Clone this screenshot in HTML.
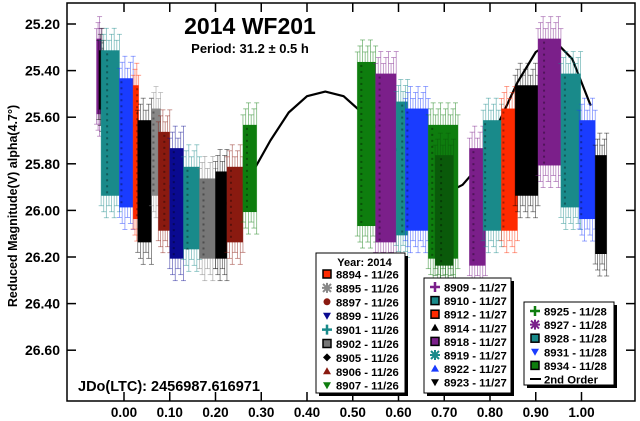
<!DOCTYPE html>
<html><head><meta charset="utf-8">
<style>
html,body{margin:0;padding:0;background:#fff;}
svg{display:block;font-family:"Liberation Sans",Arial,sans-serif;font-weight:bold;}
</style></head><body>
<svg id="chart" width="640" height="421" viewBox="0 0 640 421">
<g id="curve-layer"></g>
<g id="data-layer"></g>
<g id="axes-layer"></g>
<g id="legend-layer"></g>
</svg>
<script>
// ---- data ----
const tickX = [0.00,0.10,0.20,0.30,0.40,0.50,0.60,0.70,0.80,0.90,1.00];
const tickY = [25.20,25.40,25.60,25.80,26.00,26.20,26.40,26.60];
// session phase range and magnitude range
const sessPhaseStart = [-0.060,-0.055,-0.050,-0.010,0.020,0.030,0.060,0.075,0.100,0.130,0.165,0.200,0.225,0.260, 0.510,0.550,0.595,0.615,0.665,0.680,0.755,0.785,0.825,0.855,0.905,0.955,0.995,1.030];
const sessPhaseEnd   = [-0.050,-0.045,-0.010,0.020,0.032,0.060,0.080,0.100,0.130,0.165,0.200,0.225,0.260,0.290, 0.550,0.595,0.620,0.665,0.730,0.720,0.790,0.825,0.860,0.905,0.955,0.998,1.030,1.055];
const sessMagTop     = [25.25,25.30,25.30,25.42,25.45,25.60,25.55,25.65,25.72,25.80,25.85,25.82,25.80,25.62, 25.35,25.40,25.52,25.55,25.62,25.75,25.72,25.60,25.55,25.45,25.25,25.40,25.60,25.75];
const sessMagBot     = [25.60,25.58,25.95,26.00,26.05,26.15,25.95,26.10,26.22,26.18,26.22,26.22,26.15,26.02, 26.08,26.15,26.12,26.10,26.22,26.25,26.25,26.10,26.10,25.95,25.82,26.00,26.05,26.20];
const sessColor      = ["#7b1f8a","#000","#198a8a","#1a3cff","#ff2a00","#000","#888","#8a1a10","#0a0a90","#198a8a","#777","#000","#8a1a10","#0e7d0e", "#0e7d0e","#7b1f8a","#198a8a","#1a3cff","#0e7d0e","#0a5a0a","#7b1f8a","#198a8a","#ff2a00","#000","#7b1f8a","#198a8a","#1a3cff","#000"];
// 2nd-order fit curve samples
const fitPhase = [0.00,0.05,0.10,0.15,0.20,0.24,0.28,0.32,0.36,0.40,0.44,0.48,0.52,0.56,0.60,0.65,0.70,0.74,0.78,0.82,0.86,0.90,0.94,0.98,1.02];
const fitMag   = [25.55,25.75,25.90,25.98,26.00,25.95,25.84,25.70,25.58,25.51,25.49,25.51,25.58,25.66,25.75,25.87,25.93,25.89,25.80,25.62,25.45,25.32,25.27,25.35,25.55];
// legend
const leg1Labels = ["8894 - 11/26","8895 - 11/26","8897 - 11/26","8899 - 11/26","8901 - 11/26","8902 - 11/26","8905 - 11/26","8906 - 11/26","8907 - 11/26"];
const leg1Colors = ["#ff2a00","#888","#8a1a10","#0a0a90","#198a8a","#777","#000","#8a1a10","#0e7d0e"];
const leg1Marks  = ["sq","star","circ","tdown","plus","sq","diam","tup","tdown"];
const leg2Labels = ["8909 - 11/27","8910 - 11/27","8912 - 11/27","8914 - 11/27","8918 - 11/27","8919 - 11/27","8922 - 11/27","8923 - 11/27"];
const leg2Colors = ["#7b1f8a","#198a8a","#ff2a00","#000","#7b1f8a","#198a8a","#1a3cff","#000"];
const leg2Marks  = ["plus","sq","sq","tup","sq","star","tup","tdown"];
const leg3Labels = ["8925 - 11/28","8927 - 11/28","8928 - 11/28","8931 - 11/28","8934 - 11/28","2nd Order"];
const leg3Colors = ["#0e7d0e","#7b1f8a","#198a8a","#1a3cff","#0e7d0e","#000"];
const leg3Marks  = ["plus","star","sq","tdown","sq","line"];

const NS="http://www.w3.org/2000/svg";
const L=67,T=3,R=635,B=401;
function xS(p){return 124+p*457.5;}
function yS(m){return 24+(m-25.2)*233;}
function mk(tag,attrs,parent){const e=document.createElementNS(NS,tag);for(const k in attrs)e.setAttribute(k,attrs[k]);parent.appendChild(e);return e;}

// curve
const curveG=document.getElementById('curve-layer');
let d="";
for(let i=0;i<fitPhase.length;i++){d+=(i?"L":"M")+xS(fitPhase[i]).toFixed(1)+","+yS(fitMag[i]).toFixed(1);}
const cp=mk('path',{d:d,fill:'none',stroke:'#000','stroke-width':2.2,'stroke-linejoin':'round'},curveG);



// sessions
const dataG=document.getElementById('data-layer');
for(let s=0;s<sessPhaseStart.length;s++){
  const g=mk('g',{},dataG);
  
  
  const x0=xS(sessPhaseStart[s]),x1=xS(sessPhaseEnd[s]);
  const y0=yS(sessMagTop[s]),y1=yS(sessMagBot[s]);
  const c=sessColor[s];
  const n=Math.max(3,Math.round((x1-x0)/2.5));
  for(let k=0;k<=n;k++){
    const x=x0+(x1-x0)*k/n;
    const ext=(k%3)*6+7;
    mk('line',{x1:x,x2:x,y1:y0-ext,y2:y1+ext,stroke:c,'stroke-width':0.8,opacity:0.55},g);
    mk('line',{x1:x-2.5,x2:x+2.5,y1:y0-ext,y2:y0-ext,stroke:c,'stroke-width':0.8,opacity:0.55},g);
    mk('line',{x1:x-2.5,x2:x+2.5,y1:y1+ext,y2:y1+ext,stroke:c,'stroke-width':0.8,opacity:0.55},g);
  }
  mk('rect',{x:x0,y:y0+3,width:Math.max(2,x1-x0),height:Math.max(2,y1-y0-6),fill:c},g);
  for(let yy=y0+6;yy<y1-4;yy+=6){
    mk('rect',{x:x0+((yy|0)%3)*2+1,y:yy,width:2,height:2,fill:'#000',opacity:0.35},g);
  }
}

// axes
const ax=document.getElementById('axes-layer');
const fr=mk('rect',{x:L,y:T,width:R-L,height:B-T,fill:'none',stroke:'#000','stroke-width':1.5},ax);


for(let i=0;i<tickX.length;i++){
  const x=xS(tickX[i]);
  mk('line',{x1:x,x2:x,y1:B,y2:B-9,stroke:'#000','stroke-width':1.5},ax);
  mk('line',{x1:x,x2:x,y1:T,y2:T+9,stroke:'#000','stroke-width':1.5},ax);
  const t=mk('text',{x:x,y:417,'text-anchor':'middle','font-size':13.5},ax);
  t.textContent=tickX[i].toFixed(2);
  
  
}
for(let i=0;i<tickY.length;i++){
  const y=yS(tickY[i]);
  mk('line',{x1:L,x2:L+9,y1:y,y2:y,stroke:'#000','stroke-width':1.5},ax);
  mk('line',{x1:R,x2:R-9,y1:y,y2:y,stroke:'#000','stroke-width':1.5},ax);
  const t=mk('text',{x:60,y:y+5,'text-anchor':'end','font-size':14},ax);
  t.textContent=tickY[i].toFixed(2);
  
  
}
function txt(s,attrs,name){const t=mk('text',attrs,ax);t.textContent=s;return t;}
txt("Reduced Magnitude(V) alpha(4.7°)",{x:0,y:0,transform:'translate(17,206) rotate(-90)','text-anchor':'middle','font-size':12.5},'y-axis-title');
txt("2014 WF201",{x:250,y:34,'text-anchor':'middle','font-size':23},'chart-title');
txt("Period: 31.2 ± 0.5 h",{x:250,y:53,'text-anchor':'middle','font-size':13},'period-subtitle');
txt("JDo(LTC): 2456987.616971",{x:78,y:391,'font-size':14.5},'jdo-label');

// legend
const lg=document.getElementById('legend-layer');
function marker(g,type,x,y,c){
  if(type==='sq'){mk('rect',{x:x-4,y:y-4,width:8,height:8,fill:c,stroke:'#000','stroke-width':1.5},g);}
  else if(type==='circ'){mk('circle',{cx:x,cy:y,r:3.5,fill:c},g);}
  else if(type==='diam'){mk('path',{d:`M${x},${y-4}L${x+4},${y}L${x},${y+4}L${x-4},${y}Z`,fill:c},g);}
  else if(type==='tup'){mk('path',{d:`M${x},${y-4}L${x+4},${y+3}L${x-4},${y+3}Z`,fill:c},g);}
  else if(type==='tdown'){mk('path',{d:`M${x-4},${y-3}L${x+4},${y-3}L${x},${y+4}Z`,fill:c},g);}
  else if(type==='plus'){mk('path',{d:`M${x-5},${y}H${x+5}M${x},${y-5}V${y+5}`,stroke:c,'stroke-width':2.5},g);}
  else if(type==='star'){mk('path',{d:`M${x-5},${y}H${x+5}M${x},${y-5}V${y+5}M${x-4},${y-4}L${x+4},${y+4}M${x-4},${y+4}L${x+4},${y-4}`,stroke:c,'stroke-width':2},g);}
  else if(type==='line'){mk('line',{x1:x-5,x2:x+6,y1:y,y2:y,stroke:c,'stroke-width':2},g);}
}
function legend(name,bx,by,bw,bh,title,labels,colors,marks,y0,step){
  const g=mk('g',{},lg);
  
  
  mk('rect',{x:bx+3,y:by+3,width:bw,height:bh,fill:'#000'},g);
  mk('rect',{x:bx,y:by,width:bw,height:bh,fill:'#fff',stroke:'#000','stroke-width':1},g);
  if(title){const t=mk('text',{x:bx+bw/2+4,y:by+13,'text-anchor':'middle','font-size':11},g);t.textContent=title;}
  for(let i=0;i<labels.length;i++){
    const e=mk('g',{},g);
    
    
    const y=y0+i*step;
    marker(e,marks[i],bx+11,y,colors[i]);
    const t=mk('text',{x:bx+20,y:y+4.5,'font-size':11.3},e);t.textContent=labels[i];
  }
}
legend('legend-box-1',316,253,89,140,"Year: 2014",leg1Labels,leg1Colors,leg1Marks,274,13.9);
legend('legend-box-2',424,278,87,115,null,leg2Labels,leg2Colors,leg2Marks,287,13.6);
legend('legend-box-3',524,302,90,83,null,leg3Labels,leg3Colors,leg3Marks,311,13.6);
</script>
</body></html>
